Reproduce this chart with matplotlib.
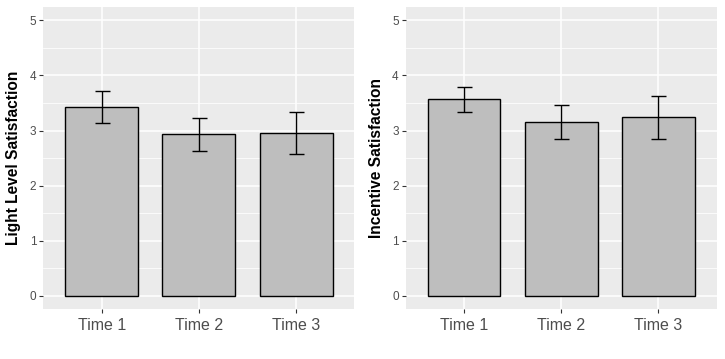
import matplotlib
matplotlib.use("Agg")
import matplotlib.pyplot as plt
import numpy as np

plt.rcParams['font.family'] = ['Liberation Sans', 'DejaVu Sans']

# Data
times = ["Time 1", "Time 2", "Time 3"]
light_means = [3.43, 2.94, 2.96]
light_lower = [3.14, 2.63, 2.58]
light_upper = [3.72, 3.23, 3.33]
incentive_means = [3.58, 3.16, 3.24]
incentive_lower = [3.34, 2.85, 2.85]
incentive_upper = [3.79, 3.47, 3.62]


def panel(ax, means, lower, upper, ylabel):
    x = np.arange(1, len(times) + 1)
    ax.set_facecolor("#EBEBEB")
    for y in np.arange(0.5, 5.5, 1.0):
        ax.axhline(y, color="white", lw=0.55, zorder=0)
    for y in range(0, 6):
        ax.axhline(y, color="white", lw=1.1, zorder=0)
    for xi in x:
        ax.axvline(xi, color="white", lw=1.1, zorder=0)
    ax.bar(x, means, width=0.75, color="#BEBEBE", edgecolor="black", linewidth=1.0, zorder=2)
    means = np.array(means)
    err = [means - np.array(lower), np.array(upper) - means]
    ax.errorbar(x, means, yerr=err, fmt="none", ecolor="black", elinewidth=1.0,
                capsize=5.4, capthick=1.0, zorder=3)
    ax.set_xlim(0.4, 3.6)
    ax.set_ylim(-0.25, 5.25)
    ax.set_xticks(x)
    ax.set_xticklabels(times, fontsize=11.5, color="#4D4D4D")
    ax.set_yticks(range(0, 6))
    ax.set_yticklabels([str(v) for v in range(0, 6)], fontsize=8.5, color="#4D4D4D")
    ax.tick_params(length=3, width=0.8, color="#333333", pad=2)
    ax.tick_params(axis="x", pad=3)
    for s in ax.spines.values():
        s.set_visible(False)
    ax.set_ylabel(ylabel, fontsize=11.2, fontweight="bold", labelpad=6)


fig = plt.figure(figsize=(7.25, 3.59), dpi=100)
ax1 = fig.add_axes([0.0598, 0.1384, 0.429, 0.8429])
ax2 = fig.add_axes([0.5596, 0.1384, 0.429, 0.8429])
panel(ax1, light_means, light_lower, light_upper, "Light Level Satisfaction")
panel(ax2, incentive_means, incentive_lower, incentive_upper, "Incentive Satisfaction")
fig.savefig("out.png", dpi=100)
